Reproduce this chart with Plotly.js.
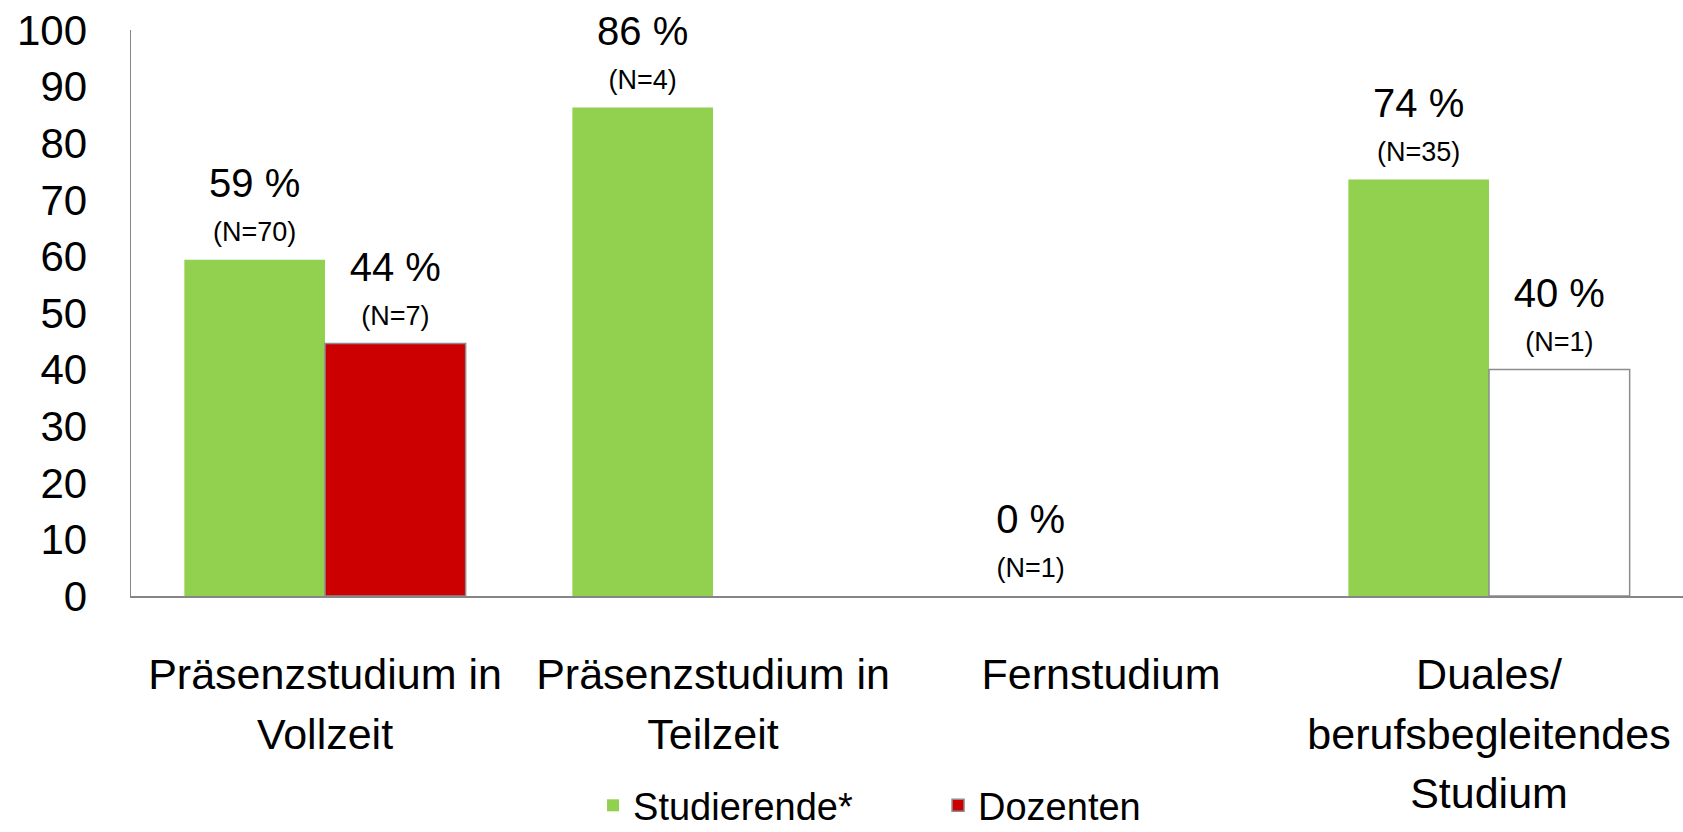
<!DOCTYPE html>
<html><head><meta charset="utf-8">
<script src="https://cdn.plot.ly/plotly-3.0.1.min.js"></script>
<style>html,body{margin:0;padding:0;background:#fff;}#chart{width:1683px;height:832px;}</style>
</head><body><div id="chart"></div>
<script>
const categories = ["Präsenzstudium in<br>Vollzeit", "Präsenzstudium in<br>Teilzeit", "Fernstudium", "Duales/<br>berufsbegleitendes<br>Studium"];
const studierendeValues = [59.4, 86.3, 0, 73.6];
const studierendeN = [70, 4, 1, 35];
const studierendeLabels = ["59 %", "86 %", "0 %", "74 %"];
const dozentenValues = [44.6, null, null, 40];
const dozentenN = [7, null, null, 1];
const dozentenLabels = ["44 %", "", "", "40 %"];
const dozentenColors = ["#CC0000", "#FFFFFF", "#FFFFFF", "#FFFFFF"];
const yTicks = [0,10,20,30,40,50,60,70,80,90,100];

function mkText(labels, ns) {
  return labels.map((l, i) => l ? ("<span style='font-size:40px'>" + l + "</span><br><br><br><span style='font-size:27px'>(N=" + ns[i] + ")</span><br><span style='font-size:6px'>&nbsp;</span>") : "");
}
function tickLabel(c) {
  return c.split("<br>").map(s => "<span style='font-size:43px'>" + s + "</span>").join("<br>");
}
const FONT = "Liberation Sans, Arial, sans-serif";
const traces = [
  {type:"bar", name:"Studierende*", x:categories, y:studierendeValues,
   marker:{color:"#92D050", line:{width:0}},
   text:mkText(studierendeLabels, studierendeN), textposition:"outside",
   textfont:{family:FONT, size:11.3, color:"#000"}, cliponaxis:false, hoverinfo:"none"},
  {type:"bar", name:"Dozenten", x:categories, y:dozentenValues,
   marker:{color:dozentenColors, line:{width:1.5, color:"#8C8C8C"}},
   text:mkText(dozentenLabels, dozentenN), textposition:"outside",
   textfont:{family:FONT, size:11.3, color:"#000"}, cliponaxis:false, hoverinfo:"none"}
];
const layout = {
  width:1683, height:832,
  margin:{l:131, r:0, t:30, b:236, autoexpand:false},
  paper_bgcolor:"#fff", plot_bgcolor:"#fff",
  barmode:"group", bargap:0.275, bargroupgap:0,
  font:{family:FONT, color:"#000"},
  showlegend:true,
  legend:{orientation:"h", x:0.52, xanchor:"center", y:-0.426, yanchor:"bottom",
          font:{family:FONT, size:38, color:"#000"}, itemwidth:30, traceorder:"normal",
          entrywidth:300, entrywidthmode:"pixels"},
  xaxis:{showline:true, linecolor:"#868686", linewidth:1.5, showgrid:false, zeroline:false,
         tickvals:categories, ticktext:categories.map(tickLabel),
         ticks:"", tickfont:{family:FONT, size:46, color:"#000"}, ticklabelstandoff:36, fixedrange:true},
  yaxis:{range:[0,100], tickvals:yTicks, ticktext:yTicks.map(String), showline:true, linecolor:"#868686", linewidth:1.5,
         showgrid:false, zeroline:false, ticks:"", tickfont:{family:FONT, size:42, color:"#000"},
         ticklabelstandoff:34, fixedrange:true}
};
Plotly.newPlot("chart", traces, layout, {displayModeBar:false, staticPlot:true});
</script></body></html>
